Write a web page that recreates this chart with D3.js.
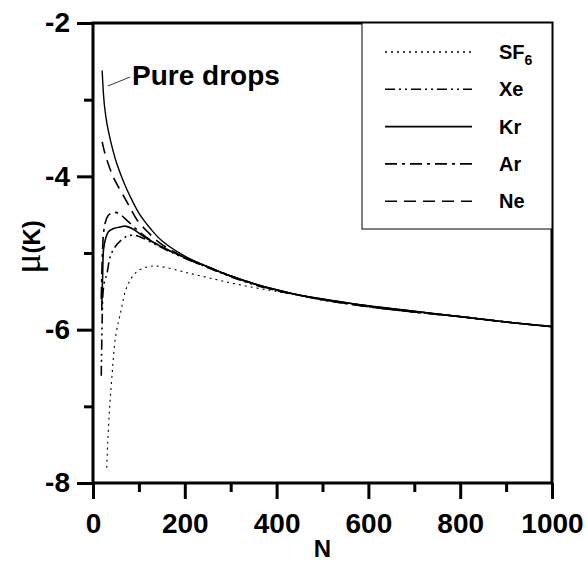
<!DOCTYPE html>
<html>
<head>
<meta charset="utf-8">
<script src="https://cdn.jsdelivr.net/npm/d3@7"></script>
<style>
  body { margin: 0; background: #fff; }
  svg { display: block; font-family: "Liberation Sans", Arial, sans-serif; }
  .tick text { font-weight: bold; font-size: 28px; fill: #000; }
  .tick line { stroke: #000; stroke-width: 3; }
</style>
</head>
<body>
<script>
// series values (N, mu in K)
var pureN  = [20, 22, 25, 30, 35, 40, 50, 60, 70, 80, 100, 125, 150, 200, 250, 300, 350, 400, 450, 500, 600, 700, 800, 900, 1000];
var pureMu = [-2.62, -2.85, -3.08, -3.3, -3.45, -3.58, -3.8, -3.97, -4.12, -4.25, -4.48, -4.68, -4.84, -5.04, -5.18, -5.3, -5.4, -5.48, -5.55, -5.6, -5.69, -5.76, -5.83, -5.9, -5.96];

var sf6N  = [30, 32, 36, 41, 49, 60, 74, 96, 120, 135, 160, 200, 250, 300, 350, 400, 450, 500, 600, 700, 800, 900, 1000];
var sf6Mu = [-7.8, -7.48, -7.04, -6.63, -6.1, -5.78, -5.44, -5.24, -5.18, -5.17, -5.19, -5.25, -5.32, -5.39, -5.45, -5.5, -5.55, -5.6, -5.69, -5.76, -5.83, -5.9, -5.96];

var xeN  = [18, 19, 20, 22, 26, 30, 38, 52, 74, 90, 103, 130, 160, 200, 250, 300, 350, 400, 450, 500, 600, 700, 800, 900, 1000];
var xeMu = [-6.6, -6.2, -5.85, -5.5, -5.35, -5.28, -5.04, -4.89, -4.78, -4.77, -4.79, -4.87, -4.96, -5.07, -5.19, -5.31, -5.41, -5.49, -5.55, -5.61, -5.7, -5.77, -5.83, -5.9, -5.96];

var krN  = [19, 20, 21, 23, 28, 34, 45, 60, 70, 85, 100, 120, 150, 200, 250, 300, 350, 400, 450, 500, 600, 700, 800, 900, 1000];
var krMu = [-5.75, -5.5, -5.3, -4.95, -4.8, -4.72, -4.68, -4.66, -4.65, -4.68, -4.74, -4.82, -4.92, -5.06, -5.18, -5.3, -5.4, -5.48, -5.55, -5.6, -5.69, -5.76, -5.83, -5.9, -5.96];

var arN  = [18, 20, 23, 27, 32, 40, 49, 60, 75, 100, 130, 160, 200, 250, 300, 350, 400, 450, 500, 600, 700, 800, 900, 1000];
var arMu = [-5.6, -5.1, -4.74, -4.6, -4.52, -4.48, -4.47, -4.5, -4.58, -4.72, -4.85, -4.95, -5.06, -5.18, -5.3, -5.4, -5.49, -5.55, -5.61, -5.7, -5.77, -5.83, -5.9, -5.96];

var neN  = [20, 25, 30, 40, 50, 67, 80, 96, 120, 146, 200, 250, 300, 350, 400, 450, 500, 600, 700, 800, 900, 1000];
var neMu = [-3.55, -3.68, -3.78, -3.95, -4.08, -4.26, -4.4, -4.57, -4.73, -4.87, -5.06, -5.19, -5.3, -5.4, -5.49, -5.55, -5.61, -5.7, -5.77, -5.83, -5.9, -5.96];

var seriesNames = ["SF6", "Xe", "Kr", "Ar", "Ne"];
var xTicks = [0, 200, 400, 600, 800, 1000];
var xMinor = [100, 300, 500, 700, 900];
var yTicks = [-2, -4, -6, -8];
var yMinor = [-3, -5, -7];

var width = 587, height = 563;
var mLeft = 93, mRight = 552, mTop = 23, mBottom = 483;

var svg = d3.select("body").append("svg")
	.attr("width", width)
	.attr("height", height);

var x = d3.scaleLinear().domain([0, 1000]).range([mLeft, mRight]);
var y = d3.scaleLinear().domain([-8, -2]).range([mBottom, mTop]);

var dashes = {
	"SF6": "2,4",
	"Xe": "10,4,2,4,2,4",
	"Kr": null,
	"Ar": "12,5,3,5",
	"Ne": "12,7"
};
var seriesN = [sf6N, xeN, krN, arN, neN];
var seriesMu = [sf6Mu, xeMu, krMu, arMu, neMu];
var series = seriesNames.map(function (name, i) {
	return {name: name, n: seriesN[i], mu: seriesMu[i]};
});

var line = d3.line()
	.x(function (d) { return x(d[0]); })
	.y(function (d) { return y(d[1]); })
	.curve(d3.curveCatmullRom.alpha(0.5));

// curves
svg.append("path")
	.attr("d", line(d3.zip(pureN, pureMu)))
	.style("fill", "none")
	.style("stroke", "#000")
	.style("stroke-width", 1.4);

svg.selectAll("path.series")
	.data(series)
	.enter()
	.append("path")
	.attr("class", "series")
	.attr("d", function (d) { return line(d3.zip(d.n, d.mu)); })
	.style("fill", "none")
	.style("stroke", "#000")
	.style("stroke-width", function (d) { return d.name === "SF6" ? 1.1 : 1.6; })
	.style("stroke-dasharray", function (d) { return dashes[d.name]; });

// axes
svg.append("g")
	.attr("transform", "translate(0," + mBottom + ")")
	.call(d3.axisBottom(x).tickValues(xTicks).tickSize(16).tickPadding(14).tickFormat(d3.format("d")));
svg.append("g")
	.attr("transform", "translate(0," + mBottom + ")")
	.call(d3.axisBottom(x).tickValues(xMinor).tickSize(9).tickFormat(""));
svg.append("g")
	.attr("transform", "translate(" + mLeft + ",0)")
	.call(d3.axisLeft(y).tickValues(yTicks).tickSize(16).tickPadding(7)
		.tickFormat(function (d) { return "-" + Math.abs(d); }));
svg.append("g")
	.attr("transform", "translate(" + mLeft + ",0)")
	.call(d3.axisLeft(y).tickValues(yMinor).tickSize(9).tickFormat(""));
svg.selectAll(".domain").remove();

svg.append("rect")
	.attr("x", mLeft)
	.attr("y", mTop)
	.attr("width", mRight - mLeft)
	.attr("height", mBottom - mTop)
	.style("fill", "none")
	.style("stroke", "#000")
	.style("stroke-width", 3);

// axis titles
svg.append("text")
	.attr("x", (mLeft + mRight) / 2)
	.attr("y", 557)
	.attr("text-anchor", "middle")
	.style("font-weight", "bold")
	.style("font-size", "24px")
	.text("N");

var yt = svg.append("text")
	.attr("transform", "translate(40,247) rotate(-90)")
	.attr("text-anchor", "middle");
yt.append("tspan")
	.style("font-family", "'Liberation Serif', 'DejaVu Serif', serif")
	.style("font-size", "38px")
	.text("\u03bc");
yt.append("tspan")
	.style("font-weight", "bold")
	.style("font-size", "24px")
	.text("(K)");

// pure drops annotation
svg.append("line")
	.attr("x1", 108).attr("y1", 86)
	.attr("x2", 130).attr("y2", 77)
	.style("stroke", "#000")
	.style("stroke-width", 0.8);
svg.append("text")
	.attr("x", 132)
	.attr("y", 85)
	.style("font-weight", "bold")
	.style("font-size", "28px")
	.text("Pure drops");

// legend
svg.append("rect")
	.attr("x", 362)
	.attr("y", mTop)
	.attr("width", mRight - 362)
	.attr("height", 206)
	.style("fill", "#fff")
	.style("stroke", "#000")
	.style("stroke-width", 1);

var legend = svg.selectAll("g.legend")
	.data(series)
	.enter()
	.append("g")
	.attr("class", "legend")
	.attr("transform", function (d, i) { return "translate(385," + (52 + i * 37.3) + ")"; });

legend.append("line")
	.attr("x1", 0)
	.attr("x2", 87)
	.style("stroke", "#000")
	.style("stroke-width", 1.6)
	.style("stroke-dasharray", function (d) { return dashes[d.name]; });

var lt = legend.append("text")
	.attr("x", 114)
	.attr("y", 7)
	.style("font-weight", "bold")
	.style("font-size", "20px");
lt.append("tspan").text(function (d) { return d.name === "SF6" ? "SF" : d.name; });
lt.filter(function (d) { return d.name === "SF6"; })
	.append("tspan")
	.attr("dy", 6)
	.style("font-size", "14px")
	.text("6");
</script>
</body>
</html>
